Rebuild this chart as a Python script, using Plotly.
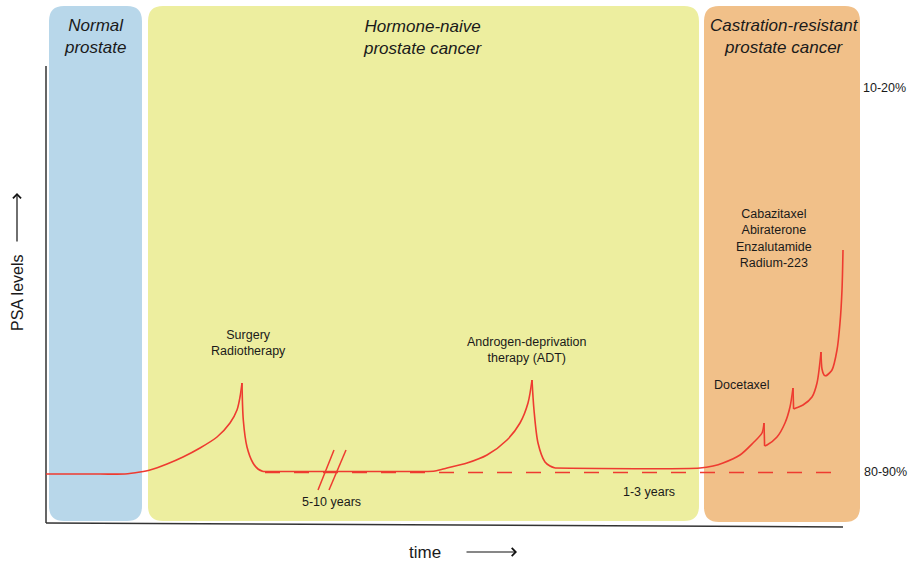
import plotly.graph_objects as go

# ---- data (schematic units: time -> x, PSA level -> y) ----
phase_labels = ["<i>Normal<br>prostate</i>", "<i>Hormone-naive<br>prostate cancer</i>",
                "<i>Castration-resistant<br>prostate cancer</i>"]
phase_start = [49, 148, 704]
phase_end = [142, 699, 860]
phase_bottom = [40, 40, 39]
phase_top = [555, 555, 555]
phase_colors = ["#B8D7EA", "#EDEE9F", "#F1C089"]
phase_label_x = [95, 423, 784]
phase_label_y = [525, 524, 525]

# PSA curve, piecewise (cusps at treatment points)
seg_times = [
    [46, 100, 125, 140, 150, 167, 183, 200, 217, 230, 237, 240, 242],
    [242, 243.3, 247, 253, 258, 263],
    [263, 420, 435, 447, 467, 487, 507, 520, 528, 532],
    [532, 534, 538, 545, 550, 555],
    [555, 700, 713, 723, 740, 753, 762, 764],
    [764, 764.6],
    [764.6, 767, 777, 785, 790, 793],
    [793, 793.6],
    [793.6, 796, 803, 812, 817, 821],
    [821, 822, 824, 826],
    [826, 832, 837, 840, 842, 843],
]
seg_levels = [
    [87, 87, 87, 89, 91, 97, 104, 113, 124, 138, 151, 164, 178],
    [178, 141, 114, 98, 92, 89.5],
    [89.5, 89.5, 90, 93, 98, 106, 121, 138, 158, 181],
    [181, 151, 118, 99, 95, 93],
    [93, 93, 95, 98, 106, 118, 128, 138],
    [138, 115],
    [115, 116, 124, 138, 154, 173],
    [173, 152],
    [152, 153, 156, 164, 178, 209],
    [209, 192, 186, 185],
    [185, 191, 211, 238, 271, 311],
]

baseline_time = [265, 832]
baseline_level = [88.5, 88.5]

break_x0 = [318, 329]
break_x1 = [334, 346]
break_y0 = [71, 71]
break_y1 = [111, 111]

notes_text = ["Surgery<br>Radiotherapy", "Androgen-deprivation<br>therapy (ADT)", "Docetaxel",
              "Cabazitaxel<br>Abiraterone<br>Enzalutamide<br>Radium-223",
              "5-10 years", "1-3 years", "10-20%", "80-90%"]
notes_x = [248, 527, 742, 774, 331, 649, 884, 885]
notes_y = [218, 211, 176, 323, 59, 69, 473, 89]

axis_x_time = [46, 843]
axis_x_level = [38, 34]
axis_y_time = [46, 46]
axis_y_level = [38, 495]

W, H = 912, 561
RED = "#EE3B30"
TXT = "#1a1a1a"
FONT = "Liberation Sans, Arial, sans-serif"


def rounded_rect(x0, x1, y0, y1, r):
    return (f"M{x0+r},{y0} L{x1-r},{y0} Q{x1},{y0} {x1},{y0+r} "
            f"L{x1},{y1-r} Q{x1},{y1} {x1-r},{y1} L{x0+r},{y1} "
            f"Q{x0},{y1} {x0},{y1-r} L{x0},{y0+r} Q{x0},{y0} {x0+r},{y0} Z")


fig = go.Figure()

shapes = []
for s, e, b, t, c in zip(phase_start, phase_end, phase_bottom, phase_top, phase_colors):
    shapes.append(dict(type="path", path=rounded_rect(s, e, b, t, 15), fillcolor=c,
                       line=dict(width=0), layer="below", xref="x", yref="y"))
for x0, x1, y0, y1 in zip(break_x0, break_x1, break_y0, break_y1):
    shapes.append(dict(type="line", x0=x0, x1=x1, y0=y0, y1=y1, xref="x", yref="y",
                       line=dict(color=RED, width=1.5)))
fig.update_layout(shapes=shapes)

# axes lines
fig.add_trace(go.Scatter(x=axis_y_time, y=axis_y_level, mode="lines",
                         line=dict(color="#333333", width=1.5), hoverinfo="skip"))
fig.add_trace(go.Scatter(x=axis_x_time, y=axis_x_level, mode="lines",
                         line=dict(color="#333333", width=1.5), hoverinfo="skip"))

# dashed baseline
fig.add_trace(go.Scatter(x=baseline_time, y=baseline_level, mode="lines",
                         line=dict(color=RED, width=1.5, dash="15px,14px"), hoverinfo="skip"))
# PSA curve
for tx, ly in zip(seg_times, seg_levels):
    fig.add_trace(go.Scatter(x=tx, y=ly, mode="lines",
                             line=dict(color=RED, width=1.6, shape="spline", smoothing=0.8),
                             hoverinfo="skip"))

ann = []
for lab, x, y in zip(phase_labels, phase_label_x, phase_label_y):
    ann.append(dict(x=x, y=y, text=lab, showarrow=False, xref="x", yref="y",
                    font=dict(size=17, color=TXT, family=FONT), align="center"))
for t, x, y in zip(notes_text, notes_x, notes_y):
    ann.append(dict(x=x, y=y, text=t, showarrow=False, xref="x", yref="y",
                    font=dict(size=12.5, color=TXT, family=FONT), align="center"))
# axis titles
ann.append(dict(x=425, y=9, text="time", showarrow=False, xref="x", yref="y",
                font=dict(size=17, color=TXT, family=FONT)))
ann.append(dict(x=517, y=9, ax=465, ay=9, axref="x", ayref="y", xref="x", yref="y",
                text="", showarrow=True, arrowhead=4, arrowsize=1.3, arrowwidth=1.2,
                arrowcolor="#111111"))
ann.append(dict(x=17, y=268, text="PSA levels", showarrow=False, xref="x", yref="y",
                textangle=-90, font=dict(size=16, color=TXT, family=FONT)))
ann.append(dict(x=17, y=368, ax=17, ay=318, axref="x", ayref="y", xref="x", yref="y",
                text="", showarrow=True, arrowhead=4, arrowsize=1.3, arrowwidth=1.2,
                arrowcolor="#111111"))
fig.update_layout(annotations=ann)

fig.update_layout(
    width=W, height=H, margin=dict(l=0, r=0, t=0, b=0),
    paper_bgcolor="white", plot_bgcolor="white", showlegend=False,
    xaxis=dict(range=[0, W], visible=False, fixedrange=True),
    yaxis=dict(range=[0, H], visible=False, fixedrange=True),
)

fig.write_html("out.html", config={"displayModeBar": False},
               post_script="document.body.style.margin='0';document.body.style.overflow='hidden';")
